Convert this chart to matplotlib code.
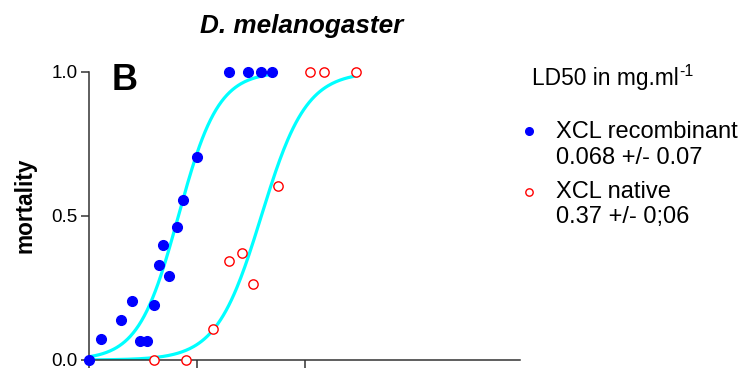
import matplotlib
matplotlib.use("Agg")
import matplotlib.pyplot as plt
import numpy as np
from matplotlib.lines import Line2D

plt.rcParams['font.family'] = ['Liberation Sans', 'DejaVu Sans']

# dose (axis units, tick every 1) and mortality
rec_x = [0.0, 0.11, 0.30, 0.40, 0.47, 0.54, 0.60, 0.65, 0.69, 0.74, 0.815, 0.87, 1.00, 1.30, 1.48, 1.60, 1.70]
rec_y = [0.0, 0.073, 0.138, 0.205, 0.066, 0.066, 0.19, 0.33, 0.40, 0.29, 0.46, 0.556, 0.705, 1.0, 1.0, 1.0, 1.0]
nat_x = [0.60, 0.90, 1.155, 1.30, 1.42, 1.525, 1.75, 2.05, 2.18, 2.48]
nat_y = [0.0, 0.0, 0.108, 0.344, 0.37, 0.262, 0.602, 1.0, 1.0, 1.0]

# fitted dose-response curves: (midpoint, slope, end of curve)
rec_fit = (0.83, 5.4, 1.70)
nat_fit = (1.60, 4.8, 2.48)

legend_title = "LD50 in mg.ml"
legend_labels = ["XCL recombinant\n0.068 +/- 0.07", "XCL native\n0.37 +/- 0;06"]

W, H = 742, 371
AX_COLOR = '#333333'


def fx(px):
    return px / W


def fy(py):
    return 1 - py / H


def sigmoid(fit):
    x0, k, xend = fit
    xs = np.linspace(0, xend, 200)
    return xs, 1.0 / (1.0 + np.exp(-k * (xs - x0)))


fig = plt.figure(figsize=(W / 100, H / 100), dpi=100)
ax = fig.add_axes([fx(89), fy(360), fx(520) - fx(89), fy(71.7) - fy(360)])

for fit in (rec_fit, nat_fit):
    xs, ys = sigmoid(fit)
    ax.plot(xs, ys, color='#00ffff', lw=2.3, zorder=2, solid_capstyle='round')

ax.plot(rec_x, rec_y, 'o', color='#0000ff', ms=7, mec='#0000ff', zorder=5, clip_on=False)
ax.plot(nat_x, nat_y, 'o', mfc='white', mec='#ff0000', mew=1.0, ms=6.7, zorder=5, clip_on=False)

ax.set_xlim(0, 4)
ax.set_ylim(0, 1)
ax.set_xticks([0, 1, 2])
ax.set_xticklabels([])
ax.set_yticks([0, 0.5, 1.0])
ax.set_yticklabels(['0.0', '0.5', '1.0'], fontsize=13.5)
for s in ('top', 'right'):
    ax.spines[s].set_visible(False)
for s in ('left', 'bottom'):
    ax.spines[s].set_color(AX_COLOR)
    ax.spines[s].set_linewidth(1.1)
ax.tick_params(axis='both', direction='out', length=6, width=1.1, color=AX_COLOR, pad=2)

fig.text(fx(302), fy(33), "D. melanogaster", fontsize=18.8, fontweight='bold', fontstyle='italic',
         ha='center', va='baseline')
fig.text(fx(112), fy(90), "B", fontsize=26, fontweight='bold', ha='left', va='baseline')
fig.text(fx(25), fy(205), "mortality", fontsize=16.3, fontweight='bold', rotation=90,
         ha='center', va='center')

# legend drawn by hand
fig.text(fx(531.7), fy(85), legend_title, fontsize=16.4, ha='left', va='baseline')
fig.text(fx(679), fy(76.5), "-1", fontsize=11.5, ha='left', va='baseline')
rows = [(138.3, legend_labels[0].split("\n")[0]), (164, legend_labels[0].split("\n")[1]),
        (198, legend_labels[1].split("\n")[0]), (223, legend_labels[1].split("\n")[1])]
for py, txt in rows:
    fig.text(fx(555.5), fy(py), txt, fontsize=17, ha='left', va='baseline')
fig.add_artist(Line2D([fx(529.3)], [fy(131)], marker='o', color='#0000ff', ms=5.5,
                      transform=fig.transFigure))
fig.add_artist(Line2D([fx(529.3)], [fy(191.7)], marker='o', mfc='white', mec='#ff0000', mew=1.0,
                      ms=5.3, transform=fig.transFigure))

fig.savefig("out.png", dpi=100)
